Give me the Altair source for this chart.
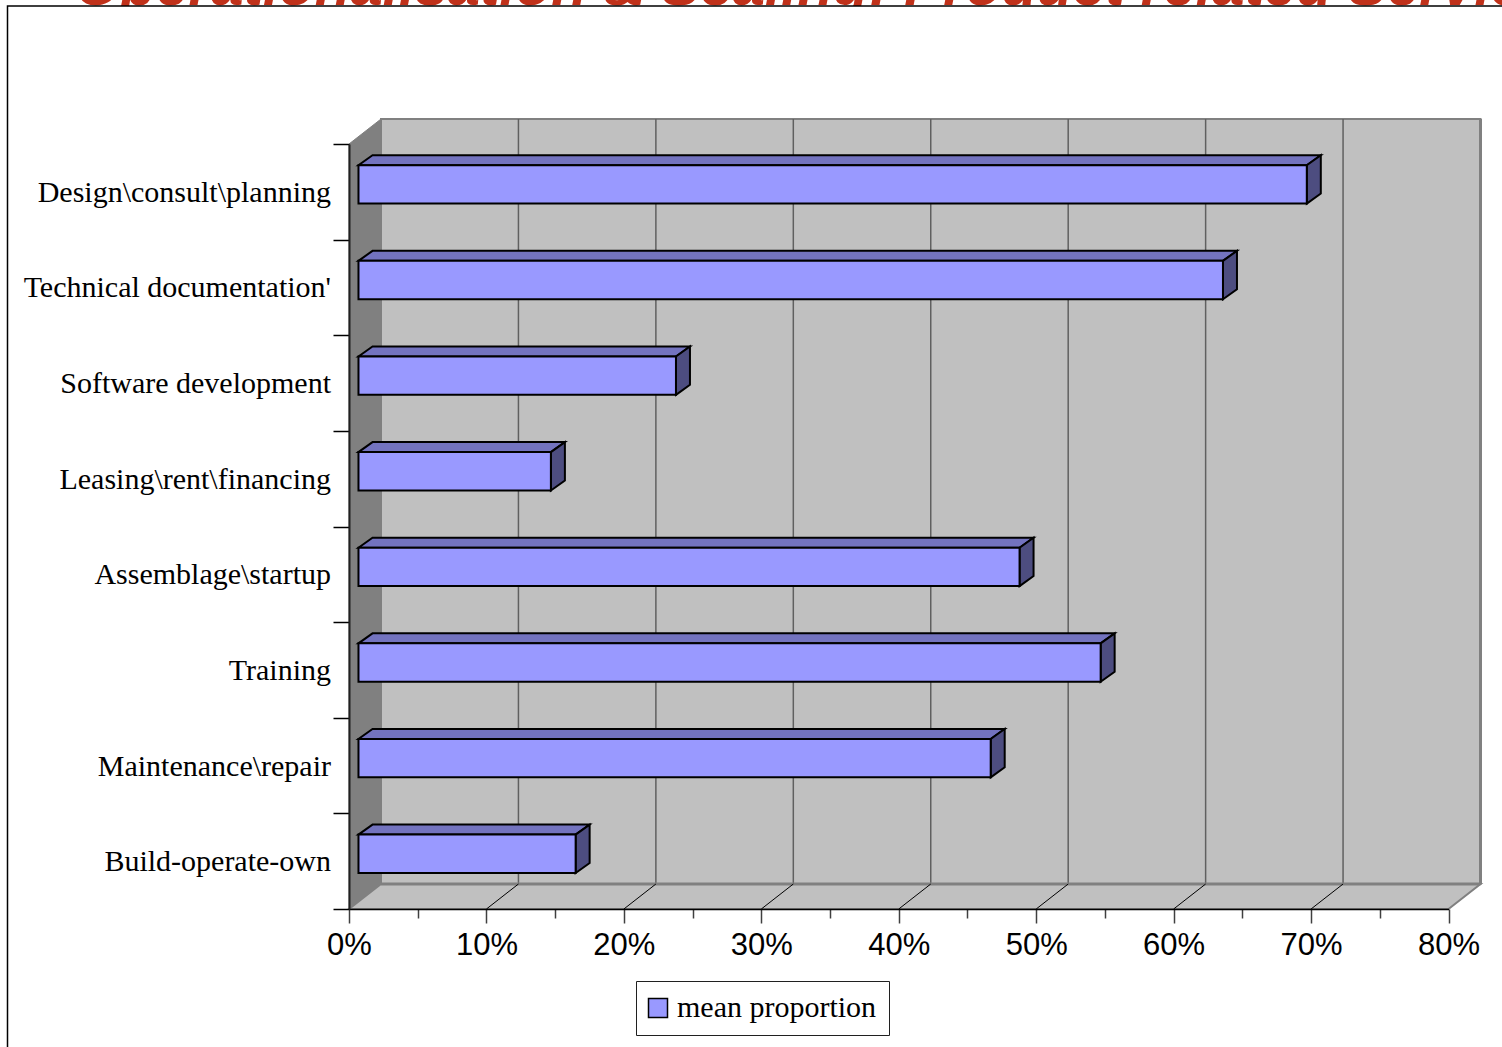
import altair as alt
import pandas as pd

# Survey results, listed from the top row of the chart down
categories = [
    "Design\\consult\\planning",
    "Technical documentation'",
    "Software development",
    "Leasing\\rent\\financing",
    "Assemblage\\startup",
    "Training",
    "Maintenance\\repair",
    "Build-operate-own",
]
mean_proportion = [69, 62.9, 23.1, 14, 48.1, 54, 46, 15.8]
series_name = "mean proportion"
title_text = "Operationalisation & Scaling: Product related Services"

PLOT_W, PLOT_H = 1099.5, 765
X_MAX, ROWS = 80, 8

# Depth of the 3D box and of each bar, in data units
WALL_DX, WALL_DY = 32 / (PLOT_W / X_MAX), 25 / (PLOT_H / ROWS)
BAR_DX, BAR_DY = 14 / (PLOT_W / X_MAX), 10 / (PLOT_H / ROWS)
BAR_X0 = 0.69
BAR_LOW, BAR_HIGH = 0.377, 0.778

x_scale = alt.Scale(domain=[0, X_MAX], range=[0, PLOT_W], nice=False, zero=False)
y_scale = alt.Scale(domain=[0, ROWS], range=[PLOT_H, 0], nice=False, zero=False)

# Axes run along the front edge of the box, with longer ticks at each label
x_axis = alt.Axis(
    values=list(range(0, X_MAX + 1, 5)),
    labelExpr="datum.value % 10 === 0 ? datum.value + '%' : ''",
    labelFont="Liberation Sans",
    labelFontSize=31,
    labelColor="black",
    labelPadding=7,
    labelFlush=False,
    labelOverlap=False,
    domainColor="black",
    domainWidth=1.5,
    tickColor="#404040",
    tickWidth=1.5,
    tickSize={"condition": {"test": "datum.value % 10 === 0", "value": 14}, "value": 9},
    grid=False,
    title=None,
    zindex=1,
)
y_axis = alt.Axis(
    values=list(range(0, ROWS + 1)),
    labels=False,
    domainColor="#202020",
    domainWidth=2,
    tickColor="black",
    tickWidth=1.5,
    tickSize=16,
    grid=False,
    title=None,
    zindex=1,
)
X = lambda f="x": alt.X(f, type="quantitative", scale=x_scale, axis=x_axis)
Y = lambda f="y": alt.Y(f, type="quantitative", scale=y_scale, axis=y_axis)

rows = pd.DataFrame(
    {
        "category": categories,
        "value": mean_proportion,
        "series": series_name,
        "row": [ROWS - 1 - i for i in range(len(categories))],
    }
)
rows["x0"] = BAR_X0
rows["x1"] = rows["value"] + BAR_X0
rows["y0"] = rows["row"] + BAR_LOW
rows["y1"] = rows["row"] + BAR_HIGH
rows["mid"] = rows["row"] + 0.5
rows["left"] = 0.0

# Back wall, side wall and floor of the 3D box
back_wall = (
    alt.Chart(pd.DataFrame({"x": [WALL_DX], "x2": [X_MAX + WALL_DX], "y": [WALL_DY], "y2": [ROWS + WALL_DY]}))
    .mark_rect(fill="#C0C0C0", stroke="#808080", strokeWidth=2)
    .encode(x=X(), x2="x2:Q", y=Y(), y2="y2:Q")
)
side_wall = (
    alt.Chart(pd.DataFrame({"x": [0, WALL_DX], "y": [0, WALL_DY], "y2": [ROWS, ROWS + WALL_DY]}))
    .mark_area(orient="vertical", fill="#808080", stroke="#808080", strokeWidth=1)
    .encode(x=X(), y=Y(), y2="y2:Q")
)
floor = (
    alt.Chart(pd.DataFrame({"x": [0, WALL_DX], "x2": [X_MAX, X_MAX + WALL_DX], "y": [0, WALL_DY]}))
    .mark_area(orient="horizontal", fill="#C0C0C0", stroke="#808080", strokeWidth=2)
    .encode(x=X(), x2="x2:Q", y=Y())
)

# Chart box: the title sits behind the white frame, which cuts it off
title = (
    alt.Chart(pd.DataFrame({"t": [title_text]}))
    .mark_text(
        align="left", baseline="alphabetic", font="Liberation Sans",
        fontWeight="bold", fontStyle="italic", fontSize=58.3, color="#C0311A",
    )
    .encode(text="t:N", x=alt.value(75 - 349), y=alt.value(5 - 144))
)
frame = (
    alt.Chart(pd.DataFrame({"a": [0]}))
    .mark_rect(fill="white", stroke="black", strokeWidth=1.5)
    .encode(
        x=alt.value(7.5 - 349), x2=alt.value(1600 - 349),
        y=alt.value(6 - 144), y2=alt.value(1100 - 144),
    )
)

grid_steps = list(range(10, X_MAX, 10))
wall_grid = (
    alt.Chart(pd.DataFrame({"x": [g + WALL_DX for g in grid_steps], "y": [WALL_DY] * 7, "y2": [ROWS + WALL_DY] * 7}))
    .mark_rule(color="#606060", strokeWidth=1.5)
    .encode(x=X(), y=Y(), y2="y2:Q")
)
floor_grid = (
    alt.Chart(
        pd.DataFrame(
            {
                "x": [v for g in grid_steps for v in (g, g + WALL_DX)],
                "y": [v for _ in grid_steps for v in (0, WALL_DY)],
                "g": [g for g in grid_steps for _ in (0, 1)],
            }
        )
    )
    .mark_line(color="black", strokeWidth=1)
    .encode(x=X(), y=Y(), detail="g:N")
)
wall_base = (
    alt.Chart(pd.DataFrame({"x": [WALL_DX], "x2": [X_MAX + WALL_DX], "y": [WALL_DY]}))
    .mark_rule(color="#808080", strokeWidth=3)
    .encode(x=X(), x2="x2:Q", y=Y())
)
wall_right = (
    alt.Chart(pd.DataFrame({"x": [X_MAX + WALL_DX], "y": [WALL_DY], "y2": [ROWS + WALL_DY]}))
    .mark_rule(color="#808080", strokeWidth=3)
    .encode(x=X(), y=Y(), y2="y2:Q")
)

category_labels = (
    alt.Chart(rows)
    .mark_text(align="right", baseline="middle", font="Liberation Serif", fontSize=30, color="black", dx=-18, dy=1)
    .encode(x=X("left"), y=Y("mid"), text="category:N")
)

# Bars: top face, end face, then the front face that carries the legend
top_faces = pd.concat(
    [
        rows.assign(x=rows["x0"], x2=rows["x1"], y=rows["y1"]),
        rows.assign(x=rows["x0"] + BAR_DX, x2=rows["x1"] + BAR_DX, y=rows["y1"] + BAR_DY),
    ]
)
end_faces = pd.concat(
    [
        rows.assign(x=rows["x1"], y=rows["y0"], y2=rows["y1"]),
        rows.assign(x=rows["x1"] + BAR_DX, y=rows["y0"] + BAR_DY, y2=rows["y1"] + BAR_DY),
    ]
)
bar_top = (
    alt.Chart(top_faces)
    .mark_area(orient="horizontal", fill="#7373BF", stroke="black", strokeWidth=2)
    .encode(x=X(), x2="x2:Q", y=Y(), detail="category:N")
)
bar_end = (
    alt.Chart(end_faces)
    .mark_area(orient="vertical", fill="#4D4D80", stroke="black", strokeWidth=2)
    .encode(x=X(), y=Y(), y2="y2:Q", detail="category:N")
)
bar_front = (
    alt.Chart(rows)
    .mark_rect(stroke="black", strokeWidth=2)
    .encode(
        x=X("x0"),
        x2="x1:Q",
        y=Y("y0"),
        y2="y1:Q",
        fill=alt.Fill(
            "series:N",
            scale=alt.Scale(domain=[series_name], range=["#9999FF"]),
            legend=alt.Legend(
                orient="none",
                legendX=636 - 349,
                legendY=981 - 144,
                title=None,
                fillColor="white",
                strokeColor="#202020",
                padding=12,
                labelFont="Liberation Serif",
                labelFontSize=30,
                labelColor="black",
                labelOffset=4,
                labelLimit=400,
                symbolType="square",
                symbolSize=361,
                symbolOffset=-5,
                symbolStrokeColor="black",
                symbolStrokeWidth=1.5,
            ),
        ),
    )
)

chart = (
    alt.layer(
        title, frame, back_wall, side_wall, floor, wall_grid, wall_base, wall_right,
        floor_grid, category_labels, bar_top, bar_end, bar_front,
    )
    .properties(
        width=PLOT_W,
        height=PLOT_H,
        padding={"left": 349, "top": 144, "right": 53.5, "bottom": 138},
        autosize=alt.AutoSizeParams(type="none"),
    )
    .configure_view(stroke=None)
    .configure(background="white")
)

chart.save("out.html", embed_options={"renderer": "svg", "actions": False})
